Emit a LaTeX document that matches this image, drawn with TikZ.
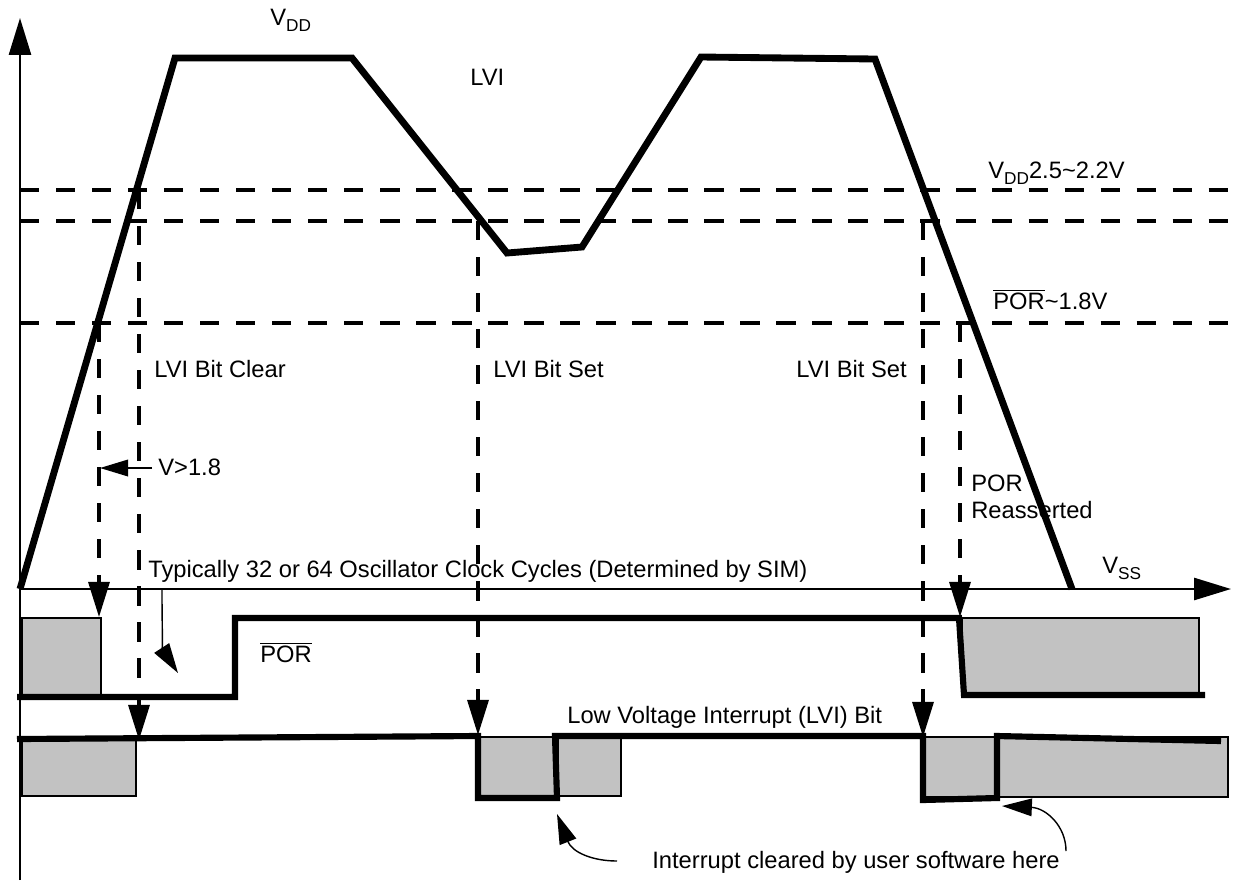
\documentclass[tikz,border=0pt]{standalone}
\usepackage{fontspec}
\setmainfont{Liberation Sans}
\usetikzlibrary{arrows.meta}
\newcommand{\lowsub}[1]{\raisebox{-3.8pt}{\fontsize{9.8}{11}\selectfont #1}}

\begin{document}
\begin{tikzpicture}[x=0.02cm, y=-0.02cm,
  font=\fontsize{13.5}{16}\selectfont,
  axisline/.style={line width=1.5pt, -{Triangle[length=21pt,width=12.5pt]}},
  vddline/.style={line width=3.9pt},
  sigline/.style={line width=3.5pt},
  hatchbox/.style={draw=black, line width=1.3pt, fill=black!24},
  levelline/.style={line width=1.8pt, dash pattern=on 11pt off 9.5pt},
  dropline/.style={levelline, -{Triangle[length=20pt,width=12pt]}},
  curvearrow/.style={line width=0.8pt, -{Triangle[length=17pt,width=10pt]}},
  lbl/.style={anchor=base west, inner sep=0pt}
]
\useasboundingbox (0,0) rectangle (1233,880);

\coordinate (orig) at (20,589);
\coordinate (ytop) at (20,18);
\coordinate (ybot) at (20,880);
\coordinate (xend) at (1231,589);
\draw[axisline] (ybot) -- (ytop);
\draw[axisline] (orig) -- (xend);

\foreach \n/\y in {lvihi/190, lvilo/221, por/323} {
  \coordinate (\n-l) at (20,\y);
  \coordinate (\n-r) at (1230,\y);
  \draw[levelline] (\n-l) -- (\n-r);
}

\foreach \i/\x/\ya/\yb in {1/99/323/617, 2/139/190/740, 3/478/221/735, 4/923/221/737, 5/960/323/617} {
  \coordinate (drop\i-a) at (\x,\ya);
  \coordinate (drop\i-b) at (\x,\yb);
  \draw[dropline] (drop\i-a) -- (drop\i-b);
}

\draw[hatchbox] (22,618) rectangle (101,695);
\draw[hatchbox] (962,618) rectangle (1199,695);
\draw[hatchbox] (22,740) rectangle (136,796);
\draw[hatchbox] (478,737) rectangle (558,797);
\draw[hatchbox] (558,737) rectangle (621,796);
\draw[hatchbox] (923,737) rectangle (997,797);
\draw[hatchbox] (997,737) rectangle (1228,797);

\draw[sigline] (17,697) -- (235,697) -- (235,618) -- (959,618) -- (964,695) -- (1205,695);
\draw[sigline] (17,739) -- (478,736) -- (478,798) -- (557,798) -- (555,736) -- (923,736)
  -- (923,800) -- (997,798) -- (997,736) -- (1221,741);

\draw[vddline] (orig) -- (175,58) -- (352,58) -- (507,253) -- (582,247) -- (701,57)
  -- (875,59) -- (1072,589);

\node[lbl] (vdd) at (270,25) {V\lowsub{DD}};
\node[lbl] (lvi) at (470,85) {LVI};
\node[lbl] (lvilevel) at (988,178) {V\lowsub{DD}2.5\textasciitilde2.2V};
\node[lbl] (porlevel) at (993,309) {$\overline{\mbox{POR}}$\textasciitilde1.8V};
\node[lbl] (bitclr) at (154,377) {LVI Bit Clear};
\node[lbl] (bitset1) at (493,377) {LVI Bit Set};
\node[lbl] (bitset2) at (796,377) {LVI Bit Set};
\node[lbl] (vgt) at (158,475) {V>1.8};
\node[lbl] (porre1) at (971,491) {POR};
\node[lbl] (porre2) at (971,518) {Reasserted};
\node[lbl] (vss) at (1102,573) {V\lowsub{SS}};
\node[lbl] (cycles) at (148,577) {Typically 32 or 64 Oscillator Clock Cycles (Determined by SIM)};
\node[lbl] (porsig) at (260,662) {$\overline{\mbox{POR}}$};
\node[lbl] (lvisig) at (567,723) {Low Voltage Interrupt (LVI) Bit};
\node[lbl] (intr) at (652,868) {Interrupt cleared by user software here};

\coordinate (vgt-tail) at (152,468);
\coordinate (vgt-tip) at (100,468);
\draw[line width=0.8pt, -{Triangle[length=16pt,width=9.5pt]}] (vgt-tail) -- (vgt-tip);

\coordinate (cyc-a) at (162,590);
\coordinate (cyc-b) at (178,673);
\draw[curvearrow] (cyc-a) .. controls (162,628) and (163,650) .. (cyc-b);

\coordinate (clr1-a) at (617,861);
\coordinate (clr1-b) at (557,814);
\draw[curvearrow] (clr1-a) .. controls (592,861) and (572,852) .. (clr1-b);

\coordinate (clr2-a) at (1066,851);
\coordinate (clr2-b) at (1002,806);
\draw[curvearrow] (clr2-a) .. controls (1066,826) and (1046,808) .. (clr2-b);
\end{tikzpicture}
\end{document}
